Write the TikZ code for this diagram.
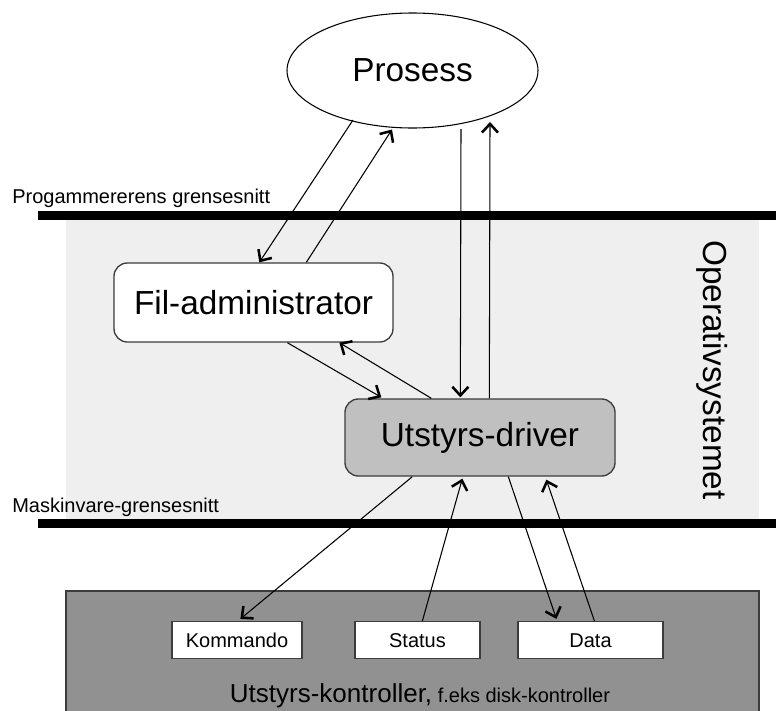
\documentclass[tikz,border=0pt]{standalone}
\usepackage{fontspec}
\setmainfont{Liberation Sans}
\usetikzlibrary{shapes.geometric,arrows.meta,calc}

\definecolor{osband}{RGB}{239,239,239}
\definecolor{drvgray}{RGB}{192,192,192}
\definecolor{ctlgray}{RGB}{145,145,145}
\definecolor{edgegray}{RGB}{60,60,60}

\tikzset{
  bigtext/.style={font=\fontsize{25}{28}\selectfont},
  smalltext/.style={font=\fontsize{15}{18}\selectfont},
  roundbox/.style={draw=edgegray, line width=1pt, rounded corners=10pt,
                   inner sep=0pt, bigtext},
  regbox/.style={draw=edgegray, line width=0.9pt, fill=white, inner sep=0pt, smalltext,
                 text height=11pt, text depth=0pt},
  flow/.style={line width=0.8pt, -{Straight Barb[length=6.5pt,width=12pt,line width=1.9pt]}},
  iface/.style={fill=black},
}

\begin{document}
\begin{tikzpicture}[x=0.75pt,y=-0.75pt]
  \useasboundingbox (0,0) rectangle (776,711);

  % operating-system band and the two interface bars
  \fill[osband] (66,220) rectangle (759,519);
  \fill[iface] (38,211) rectangle (776,220);
  \fill[iface] (38,519) rectangle (776,528);

  \node[smalltext, anchor=base west, inner sep=0pt] (lblprog) at (12,203) {Progammererens grensesnitt};
  \node[smalltext, anchor=base west, inner sep=0pt] (lblhw) at (12,512) {Maskinvare-grensesnitt};

  \node[bigtext, rotate=-90, inner sep=0pt] (os) at (712,370) {Operativsystemet};

  % device controller
  \node[draw=edgegray, line width=0.8pt, fill=ctlgray, minimum width=693*0.75pt,
        minimum height=125*0.75pt, inner sep=0pt] (ctl) at (412.5,653.5) {};
  \node[anchor=base, inner sep=0pt] (ctltext) at (420,702)
    {\fontsize{19.5}{22}\selectfont Utstyrs-kontroller,\fontsize{15}{18}\selectfont{} f.eks disk-kontroller};

  \node[regbox, minimum width=130*0.75pt, minimum height=37*0.75pt] (kom) at (237,640) {Kommando};
  \node[regbox, minimum width=125*0.75pt, minimum height=37*0.75pt] (sta) at (417.5,640) {Status};
  \node[regbox, minimum width=145*0.75pt, minimum height=37*0.75pt] (dat) at (590.5,640) {Data};

  % software components
  \node[draw=black, line width=0.8pt, fill=white, ellipse, inner sep=0pt,
        minimum width=251*0.75pt, minimum height=115*0.75pt, bigtext] (pros) at (412.5,70.5) {Prosess};
  \node[roundbox, fill=white, minimum width=279*0.75pt, minimum height=79*0.75pt] (fil) at (253.5,302.5) {Fil-administrator};
  \node[roundbox, fill=drvgray, minimum width=270*0.75pt, minimum height=77*0.75pt] (drv) at (480,437.5) {Utstyrs-driver};

  % process <-> file manager
  \draw[flow] ($(pros.center)+(-59.5,49.5)$) -- ($(fil.north west)+(146,0)$);
  \draw[flow] ($(fil.north west)+(193,0)$) -- ($(pros.center)+(-20.5,59)$);
  % process <-> device driver
  \draw[flow] ($(pros.center)+(48.5,58.5)$) -- ($(drv.north west)+(116,-1)$);
  \draw[flow] ($(drv.north west)+(145,0)$) -- ($(pros.center)+(77.5,51.5)$);
  % file manager <-> device driver
  \draw[flow] ($(fil.south west)+(174,0)$) -- ($(drv.north west)+(37,-1)$);
  \draw[flow] ($(drv.north west)+(87,0)$) -- ($(fil.south west)+(226,0)$);
  % device driver <-> controller registers
  \draw[flow] ($(drv.south west)+(68,0)$) -- ($(kom.north west)+(69,-2)$);
  \draw[flow] ($(sta.north west)+(68,0)$) -- ($(drv.south west)+(118,2)$);
  \draw[flow] ($(drv.south west)+(164,0)$) -- ($(dat.north west)+(39,-2)$);
  \draw[flow] ($(dat.north west)+(77,0)$) -- ($(drv.south west)+(202,3)$);
\end{tikzpicture}
\end{document}
